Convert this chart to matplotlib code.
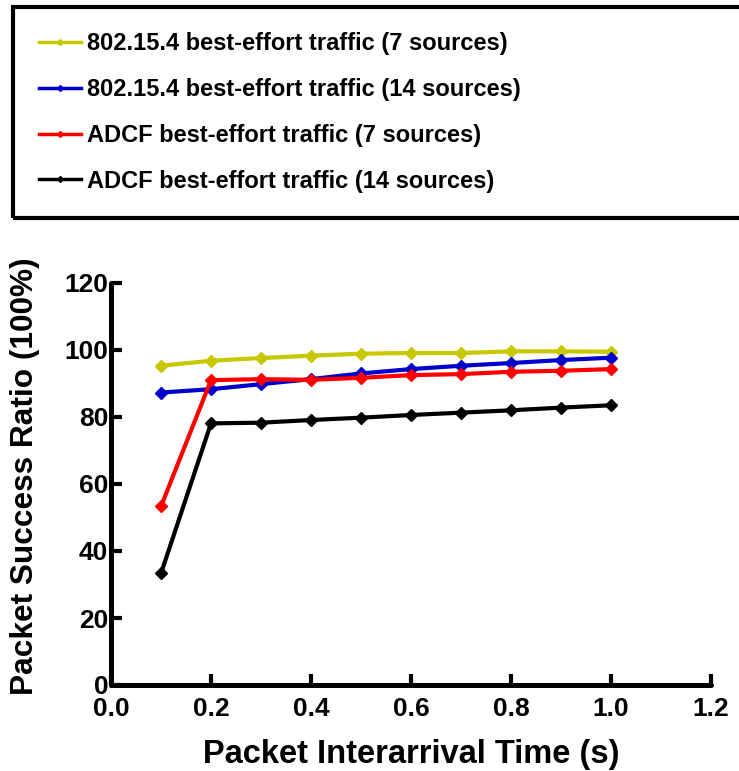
import numpy as np
import matplotlib
matplotlib.use('Agg')
import matplotlib.pyplot as plt
from matplotlib import font_manager
from matplotlib.lines import Line2D
from matplotlib.patches import Rectangle

# packet interarrival time (s)
interarrival = [0.1, 0.2, 0.3, 0.4, 0.5, 0.6, 0.7, 0.8, 0.9, 1.0]

# packet success ratio
std_7 = [95.3, 96.8, 97.6, 98.3, 98.9, 99.1, 99.1, 99.6, 99.6, 99.5]
std_14 = [87.3, 88.3, 89.8, 91.3, 93.0, 94.3, 95.3, 96.1, 97.0, 97.7]
adcf_7 = [53.3, 91.0, 91.3, 91.1, 91.7, 92.5, 92.8, 93.5, 93.8, 94.3]
adcf_14 = [33.3, 78.1, 78.3, 79.1, 79.8, 80.6, 81.3, 82.0, 82.8, 83.5]

labels = ['802.15.4 best-effort traffic (7 sources)',
          '802.15.4 best-effort traffic (14 sources)',
          'ADCF best-effort traffic (7 sources)',
          'ADCF best-effort traffic (14 sources)']
colors = ['#C8C800', '#0000CC', '#FF0000', '#000000']

xticks = [0.0, 0.2, 0.4, 0.6, 0.8, 1.0, 1.2]
yticks = [0, 20, 40, 60, 80, 100, 120]

names = {f.name for f in font_manager.fontManager.ttflist}
base = 'Liberation Sans' if 'Liberation Sans' in names else 'DejaVu Sans'
plt.rcParams['font.family'] = base
plt.rcParams['font.weight'] = 'bold'

W, H = 739, 771
fig = plt.figure(figsize=(W / 100, H / 100), dpi=100)
ax = fig.add_axes([111 / W, 1 - 685 / H, 600 / W, 402 / H])

series = [std_7, std_14, adcf_7, adcf_14]
for vals, c in zip(series, colors):
    ax.plot(interarrival, vals, color=c, lw=3, marker='D', ms=6,
            mfc=c, mec=c, mew=1)

ax.set_xlim(0, 1.2)
ax.set_ylim(0, 120)
ax.set_xticks(xticks)
ax.set_xticklabels(['%.1f' % v for v in xticks])
ax.set_yticks(yticks)
for s in ['top', 'right']:
    ax.spines[s].set_visible(False)
for s in ['left', 'bottom']:
    ax.spines[s].set_linewidth(3.6)
    ax.spines[s].set_capstyle('round')
ax.tick_params(direction='in', length=8, width=3, labelsize=19, pad=2)
ax.tick_params(axis='x', pad=9)
for lab in ax.get_xticklabels() + ax.get_yticklabels():
    lab.set_fontweight('bold')

ax.set_xlabel('Packet Interarrival Time (s)', fontsize=23.5, fontweight='bold')
ax.set_ylabel('Packet Success Ratio (100%)', fontsize=22.8, fontweight='bold')
ax.xaxis.set_label_coords(0.5, -0.135)
ax.yaxis.set_label_coords(-0.118, 0.52)

# legend box sits above the plot, its right edge runs off the figure
fig.patches.append(Rectangle((13 / W, 1 - 218 / H), 1.2, 211 / H,
                             transform=fig.transFigure, fill=False,
                             lw=3, ec='black', clip_on=False))
handles = [Line2D([], [], color=c, lw=2.5, marker='D', ms=3, mfc=c, mec=c)
           for c in colors]
fig.legend(handles, labels, loc='upper left',
           bbox_to_anchor=(39 / W, 1 - 32 / H), frameon=False,
           prop={'family': base, 'weight': 'bold', 'size': 17},
           handlelength=1.78, handletextpad=0.25, labelspacing=0.97,
           borderpad=0, borderaxespad=0)

fig.savefig('out.png', dpi=100)
